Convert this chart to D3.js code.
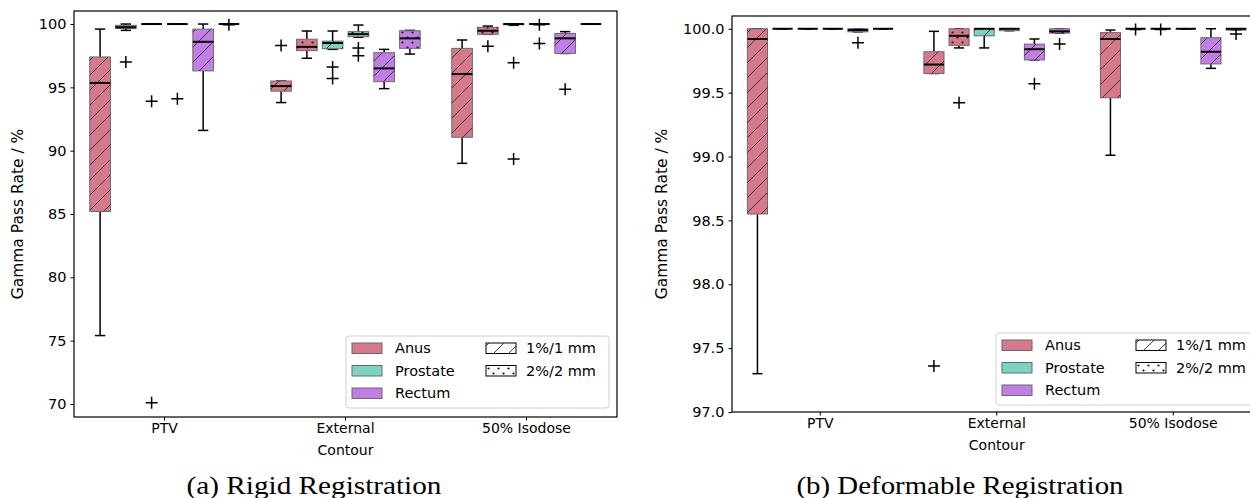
<!DOCTYPE html>
<html lang="en">
<head>
<meta charset="UTF-8">
<title>Gamma Pass Rate</title>
<script src="https://d3js.org/d3.v7.min.js"></script>
<style>
  body { margin: 0; background: #fff; }
  text { font-family: "DejaVu Sans", sans-serif; fill: #000; }
  .caption { font-family: "Liberation Serif", "DejaVu Serif", serif; }
</style>
</head>
<body>
<script>
// categories
const groups = ["PTV", "External\nContour", "50% Isodose"]
const organs = ["Anus", "Prostate", "Rectum"]
const criteria = ["1%/1 mm", "2%/2 mm"]
const organColors = ["#d5798b", "#7cd3bf", "#c27ee5"]

// box order inside a group: Anus 1%, Anus 2%, Prostate 1%, Prostate 2%, Rectum 1%, Rectum 2%
// each row: [whisker low, q1, median, q3, whisker high]
const rigidStats = [
  [75.4, 85.2, 95.35, 97.4, 99.6], [99.5, 99.65, 99.75, 99.9, 100], [100, 100, 100, 100, 100],
  [100, 100, 100, 100, 100], [91.6, 96.3, 98.6, 99.6, 100], [100, 100, 100, 100, 100],
  [93.8, 94.7, 95.1, 95.5, 95.5], [97.3, 97.9, 98.2, 98.8, 99.45], [98.0, 98.05, 98.5, 98.65, 99.45],
  [98.95, 99.0, 99.2, 99.4, 99.92], [94.9, 95.45, 96.5, 97.74, 98.0], [97.63, 98.08, 98.87, 99.47, 99.5],
  [89.0, 91.06, 96.05, 98.08, 98.74], [99.19, 99.19, 99.47, 99.74, 99.84], [99.9, 99.95, 100, 100, 100],
  [100, 100, 100, 100, 100], [97.68, 97.68, 98.87, 99.26, 99.4], [100, 100, 100, 100, 100]
]
const rigidFliers = [
  [], [97.0], [93.9, 70.1], [94.1], [], [99.95],
  [98.3], [], [96.6, 95.7], [98.1, 97.5], [], [],
  [], [98.25], [96.95, 89.35], [99.95, 98.47], [94.85], []
]

const deformStats = [
  [97.3, 98.55, 99.92, 100, 100], [100, 100, 100, 100, 100], [100, 100, 100, 100, 100],
  [100, 100, 100, 100, 100], [99.976, 99.976, 99.99, 100, 100], [100, 100, 100, 100, 100],
  [99.65, 99.65, 99.72, 99.82, 99.98], [99.85, 99.87, 99.945, 100, 100], [99.85, 99.945, 100, 100, 100],
  [99.985, 99.985, 100, 100, 100], [99.756, 99.756, 99.84, 99.88, 99.92], [99.966, 99.966, 99.98, 100, 100],
  [99.01, 99.46, 99.92, 99.97, 99.99], [100, 100, 100, 100, 100], [100, 100, 100, 100, 100],
  [100, 100, 100, 100, 100], [99.69, 99.725, 99.82, 99.93, 100], [99.99, 99.99, 100, 100, 100]
]
const deformFliers = [
  [], [], [], [], [99.89], [],
  [97.36], [99.42], [], [], [99.57], [99.88],
  [], [99.995], [99.995], [], [], [99.96]
]

const rigidTicks = [70, 75, 80, 85, 90, 95, 100]
const deformTicks = [97.0, 97.5, 98.0, 98.5, 99.0, 99.5, 100.0]

const svg = d3.select('body').append('svg')
  .attr('width', 1250)
  .attr('height', 498)

const defs = svg.append('defs')
const slash = defs.append('pattern')
  .attr('id', 'hatch-slash')
  .attr('patternUnits', 'userSpaceOnUse')
  .attr('width', 15).attr('height', 15)
slash.append('path')
  .attr('d', 'M0,15 L15,0 M-3,3 L3,-3 M12,18 L18,12')
  .attr('stroke', '#2a2a2a').attr('stroke-width', 0.9)

const dots = defs.append('pattern')
  .attr('id', 'hatch-dots')
  .attr('patternUnits', 'userSpaceOnUse')
  .attr('width', 10).attr('height', 10)
dots.append('circle').attr('cx', 2.5).attr('cy', 2.5).attr('r', 1.1).attr('fill', '#111')
dots.append('circle').attr('cx', 7.5).attr('cy', 7.5).attr('r', 1.1).attr('fill', '#111')

function drawPanel(cfg) {
  const x = d3.scaleBand().domain(groups).range([cfg.left, cfg.right])
  const gw = x.bandwidth()
  const inner = d3.scaleBand().domain(d3.range(6)).range([-gw * 0.427, gw * 0.427])
  const bw = inner.bandwidth() * 0.8
  const y = d3.scaleLinear().domain(cfg.domain).range([cfg.bottom, cfg.top])

  const g = svg.append('g')

  const boxes = cfg.stats.map((s, i) => {
    const gi = Math.floor(i / 6), k = i % 6
    return {
      cx: x(groups[gi]) + gw / 2 + inner(k) + inner.bandwidth() / 2,
      organ: Math.floor(k / 2),
      crit: k % 2,
      s: s,
      fliers: cfg.fliers[i]
    }
  })

  const b = g.selectAll('g.box').data(boxes).enter().append('g').attr('class', 'box')

  // whiskers
  b.append('line')
    .attr('x1', d => d.cx).attr('x2', d => d.cx)
    .attr('y1', d => y(d.s[0])).attr('y2', d => y(d.s[1]))
    .attr('stroke', '#000').attr('stroke-width', 1.5)
  b.append('line')
    .attr('x1', d => d.cx).attr('x2', d => d.cx)
    .attr('y1', d => y(d.s[3])).attr('y2', d => y(d.s[4]))
    .attr('stroke', '#000').attr('stroke-width', 1.5)
  b.selectAll('line.cap').data(d => [[d.cx, d.s[0]], [d.cx, d.s[4]]]).enter()
    .append('line').attr('class', 'cap')
    .attr('x1', d => d[0] - bw / 4).attr('x2', d => d[0] + bw / 4)
    .attr('y1', d => y(d[1])).attr('y2', d => y(d[1]))
    .attr('stroke', '#000').attr('stroke-width', 1.5)

  // box
  b.append('rect')
    .attr('x', d => d.cx - bw / 2).attr('width', bw)
    .attr('y', d => y(d.s[3])).attr('height', d => y(d.s[1]) - y(d.s[3]))
    .attr('fill', d => organColors[d.organ])
    .attr('stroke', '#6a6a6a').attr('stroke-width', 1)
  b.append('rect')
    .attr('x', d => d.cx - bw / 2).attr('width', bw)
    .attr('y', d => y(d.s[3])).attr('height', d => y(d.s[1]) - y(d.s[3]))
    .attr('fill', d => d.crit === 0 ? 'url(#hatch-slash)' : 'url(#hatch-dots)')
    .attr('stroke', 'none')

  // median
  b.append('line')
    .attr('x1', d => d.cx - bw / 2).attr('x2', d => d.cx + bw / 2)
    .attr('y1', d => y(d.s[2])).attr('y2', d => y(d.s[2]))
    .attr('stroke', '#000').attr('stroke-width', 2)

  // fliers
  const fl = b.selectAll('g.flier').data(d => d.fliers.map(v => [d.cx, v])).enter()
    .append('g').attr('class', 'flier')
    .attr('transform', d => `translate(${d[0]},${y(d[1])})`)
  fl.append('path').attr('d', 'M-6,0 H6 M0,-6 V6')
    .attr('stroke', '#000').attr('stroke-width', 1.5)

  // axes frame
  g.append('rect')
    .attr('x', cfg.left).attr('y', cfg.top)
    .attr('width', cfg.right - cfg.left).attr('height', cfg.bottom - cfg.top)
    .attr('fill', 'none').attr('stroke', '#000').attr('stroke-width', 1.2)

  // y axis
  const yAxis = d3.axisLeft(y).tickValues(cfg.ticks).tickFormat(d3.format(cfg.fmt)).tickSize(3.5).tickPadding(4)
  const ya = g.append('g').attr('transform', `translate(${cfg.left},0)`).call(yAxis)
  ya.select('.domain').remove()
  ya.selectAll('text').style('font-size', '14.5px')

  // x tick labels
  const xt = g.selectAll('g.xt').data(groups).enter().append('g')
    .attr('transform', d => `translate(${x(d) + gw / 2},${cfg.bottom})`)
  xt.append('line').attr('y2', 3.5).attr('stroke', '#000')
  xt.append('text')
    .attr('text-anchor', 'middle')
    .style('font-size', '14px')
    .selectAll('tspan').data(d => d.split('\n')).enter().append('tspan')
    .attr('x', 0).attr('y', (d, i) => 16 + i * 22)
    .text(d => d)

  g.append('text')
    .attr('transform', `translate(${cfg.ylabelX},${(cfg.top + cfg.bottom) / 2}) rotate(-90)`)
    .attr('text-anchor', 'middle')
    .style('font-size', '15.5px')
    .text('Gamma Pass Rate / %')

  // legend
  const lg = g.append('g').attr('transform', `translate(${cfg.legendX},${cfg.legendY})`)
  lg.append('rect').attr('width', 263).attr('height', 72).attr('rx', 3)
    .attr('fill', '#fff').attr('fill-opacity', 0.85).attr('stroke', '#d0d0d0')
  organs.forEach((o, i) => {
    lg.append('rect').attr('x', 6).attr('y', 7 + i * 22.5).attr('width', 30).attr('height', 10.5)
      .attr('fill', organColors[i]).attr('stroke', '#6a6a6a')
    lg.append('text').attr('x', 49).attr('y', 17 + i * 22.5).style('font-size', '14.5px').text(o)
  })
  criteria.forEach((c, i) => {
    lg.append('rect').attr('x', 140).attr('y', 7 + i * 22.5).attr('width', 30).attr('height', 10.5)
      .attr('fill', '#fff').attr('stroke', '#000')
    lg.append('rect').attr('x', 140).attr('y', 7 + i * 22.5).attr('width', 30).attr('height', 10.5)
      .attr('fill', i === 0 ? 'url(#hatch-slash)' : 'url(#hatch-dots)')
    lg.append('text').attr('x', 180).attr('y', 17 + i * 22.5).style('font-size', '14.5px').text(c)
  })

  svg.append('text').attr('class', 'caption')
    .attr('x', cfg.captionX).attr('y', 494)
    .attr('text-anchor', 'middle')
    .attr('textLength', cfg.captionW).attr('lengthAdjust', 'spacingAndGlyphs')
    .style('font-size', '25px')
    .text(cfg.caption)
}

drawPanel({
  left: 74, right: 617, top: 11, bottom: 417,
  domain: [68.97, 101.03], ticks: rigidTicks, fmt: 'd',
  stats: rigidStats, fliers: rigidFliers,
  ylabelX: 23, legendX: 346, legendY: 336,
  caption: '(a) Rigid Registration', captionX: 314, captionW: 255
})

drawPanel({
  left: 732, right: 1261.5, top: 16, bottom: 412,
  domain: [97.0, 100.1], ticks: deformTicks, fmt: '.1f',
  stats: deformStats, fliers: deformFliers,
  ylabelX: 667, legendX: 996, legendY: 333,
  caption: '(b) Deformable Registration', captionX: 960, captionW: 327
})
</script>
</body>
</html>
